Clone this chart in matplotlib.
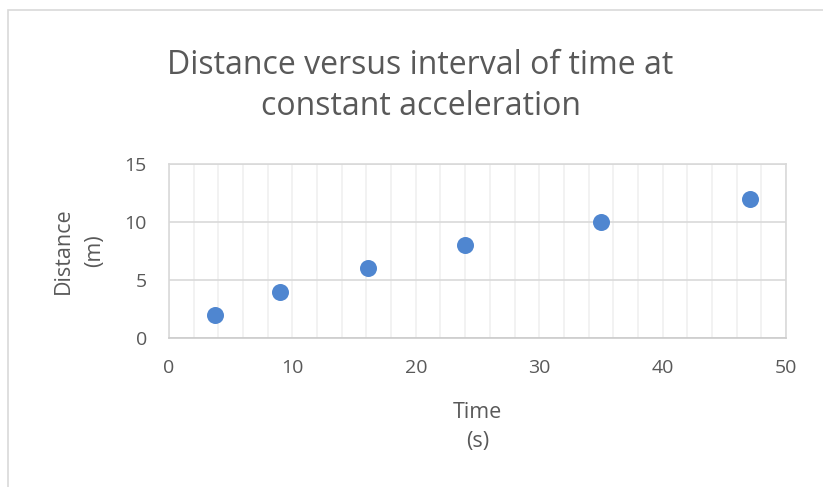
import matplotlib.pyplot as plt
from matplotlib.ticker import MultipleLocator
import matplotlib.patches as patches

# data
time_s = [3.7, 9.0, 16.1, 24.0, 35.0, 47.1]
distance_m = [2, 4, 6, 8, 10, 12]
x_ticks = [0, 10, 20, 30, 40, 50]
y_ticks = [0, 5, 10, 15]

plt.rcParams['font.family'] = ['Open Sans', 'DejaVu Sans']
grey = '#595959'

fig = plt.figure(figsize=(8.23, 4.87), dpi=100, facecolor='white')
# outer chart border (only top/left visible in the crop)
fig.patches.append(patches.Rectangle((8 / 823, -0.1), 1.2, 1 - 10 / 487 + 0.1,
                                     transform=fig.transFigure, fill=False,
                                     ec='#d9d9d9', lw=1.2))

ax = fig.add_axes([169 / 823, 1 - 338 / 487, (786 - 169) / 823, (338 - 164) / 487])
ax.scatter(time_s, distance_m, s=150, color='#4F86D0', zorder=3, linewidths=0)

ax.set_xlim(0, 50)
ax.set_ylim(0, 15)
ax.set_xticks(x_ticks)
ax.set_yticks(y_ticks)
ax.xaxis.set_minor_locator(MultipleLocator(2))
ax.grid(which='major', axis='y', color='#d9d9d9', lw=1.2)
ax.grid(which='major', axis='x', color='#f0f0f0', lw=1.2)
ax.grid(which='minor', axis='x', color='#f0f0f0', lw=1.2)
ax.set_axisbelow(True)
for s in ax.spines.values():
    s.set_color('#d9d9d9')
    s.set_linewidth(1.2)
ax.spines['bottom'].set_color('#cccccc')
ax.tick_params(which='both', length=0, labelsize=14, labelcolor=grey)
ax.tick_params(axis='x', pad=15)
ax.tick_params(axis='y', pad=16)

ax.set_xlabel('Time\n(s)', fontsize=15.5, color=grey, labelpad=18, linespacing=1.5)
ax.set_ylabel('Distance\n(m)', fontsize=15.5, color=grey, labelpad=14, linespacing=1.6)

fig.text(0.511, 1 - 86 / 487, 'Distance versus interval of time at\nconstant acceleration',
         ha='center', va='center', fontsize=23, color=grey, linespacing=1.32)

fig.savefig('out.png', dpi=100)
